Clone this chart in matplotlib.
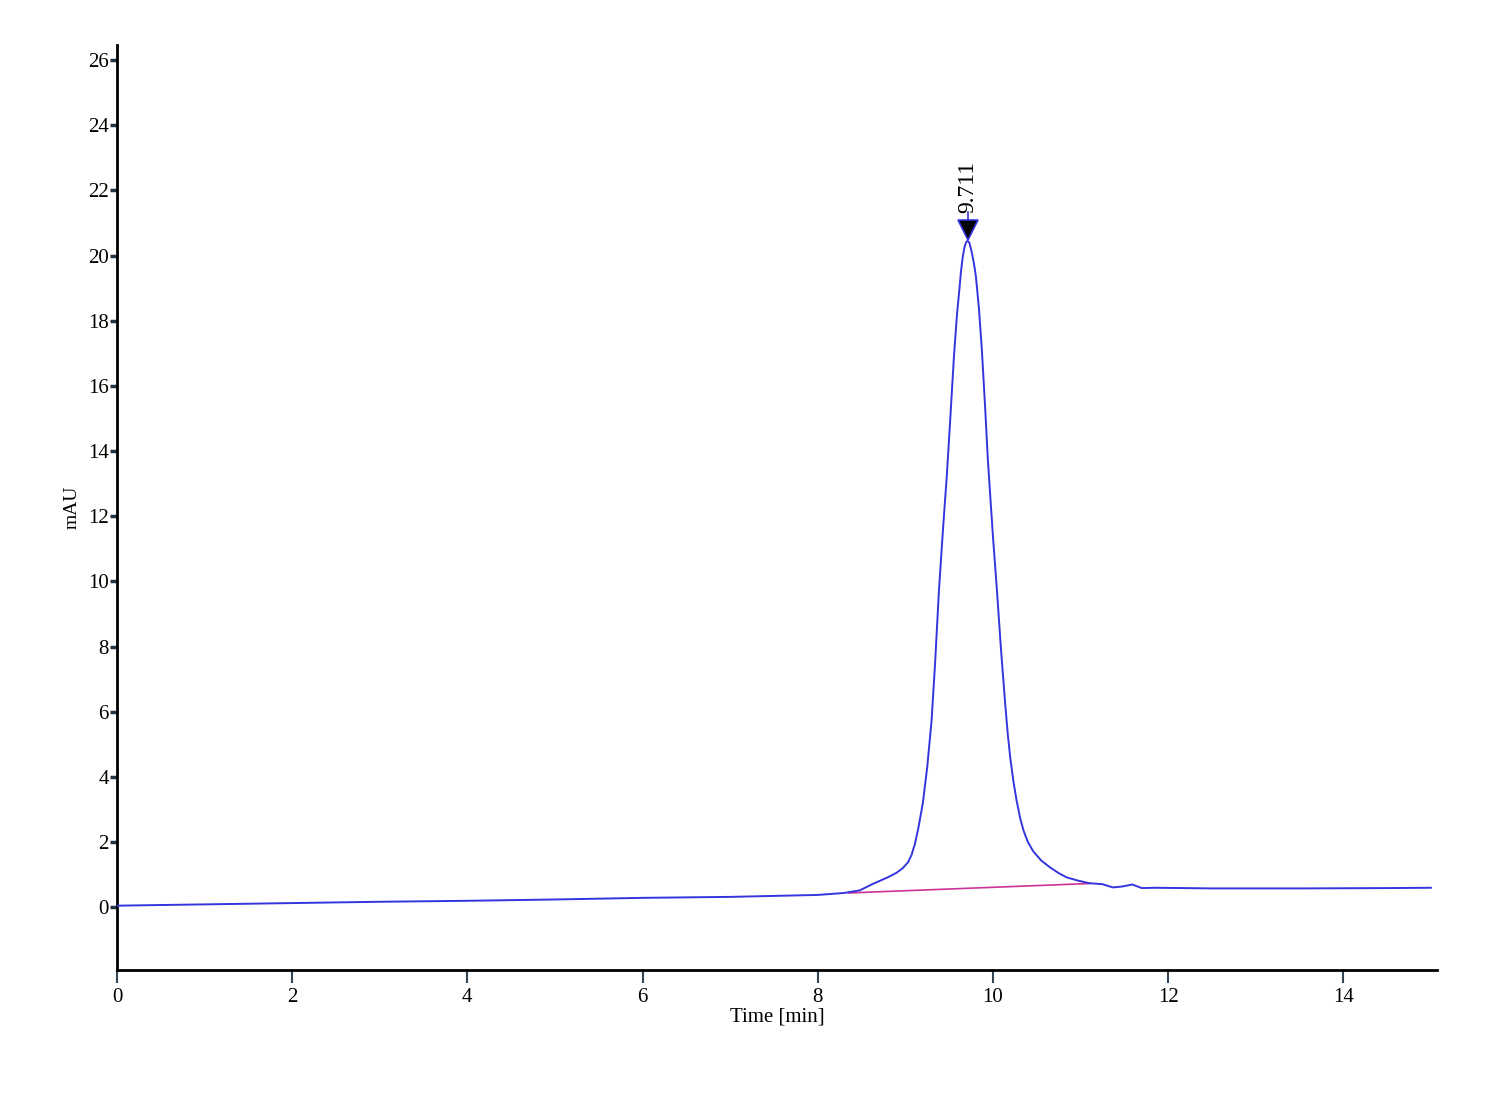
import matplotlib.pyplot as plt

# chromatogram trace
time = [0, 1, 2, 3, 4, 5, 6, 7, 7.5, 8, 8.3, 8.48, 8.63, 8.8, 8.9, 8.97, 9.03, 9.07,
        9.11, 9.15, 9.2, 9.25, 9.3, 9.34, 9.384, 9.43, 9.475, 9.52, 9.555, 9.59,
        9.615, 9.635, 9.655, 9.675, 9.695, 9.711, 9.73, 9.75, 9.77, 9.79, 9.806,
        9.84, 9.874, 9.91, 9.943, 10.0, 10.046, 10.09, 10.137, 10.17, 10.2, 10.235,
        10.27, 10.31, 10.35, 10.4, 10.46, 10.55, 10.65, 10.75, 10.84, 10.97, 11.1,
        11.25, 11.37, 11.48, 11.59, 11.7, 11.85, 12.5, 13.5, 14.5, 15]
mau = [0.05, 0.09, 0.13, 0.17, 0.2, 0.24, 0.29, 0.32, 0.35, 0.38, 0.44, 0.52, 0.72,
       0.92, 1.06, 1.2, 1.38, 1.6, 1.95, 2.45, 3.2, 4.3, 5.74, 7.5, 9.73, 11.6,
       13.3, 15.3, 16.9, 18.2, 18.9, 19.5, 19.95, 20.25, 20.42, 20.45, 20.4, 20.2,
       19.95, 19.65, 19.35, 18.4, 17.1, 15.4, 13.7, 11.4, 9.73, 8.0, 6.35, 5.3,
       4.55, 3.85, 3.28, 2.75, 2.35, 2.0, 1.72, 1.44, 1.23, 1.05, 0.92, 0.82, 0.74,
       0.71, 0.61, 0.64, 0.70, 0.59, 0.6, 0.58, 0.58, 0.59, 0.6]

# integration baseline under the peak
base_time = [8.35, 11.1]
base_mau = [0.44, 0.73]

peak_time = 9.711
peak_mau = 20.45
peak_label = "9.711"

xticks = [0, 2, 4, 6, 8, 10, 12, 14]
yticks = list(range(0, 27, 2))

plt.rcParams['font.family'] = ['Liberation Serif', 'DejaVu Serif']

fig = plt.figure(figsize=(15, 11), dpi=100)
ax = fig.add_axes([0.078, 0.118, 0.880, 0.841])

ax.plot(base_time, base_mau, color="#cc3399", lw=1.2, zorder=2)
ax.plot(time, mau, color="#3535dd", lw=1.4, zorder=3)

# peak marker
ax.plot([peak_time, peak_time], [peak_mau + 0.6, peak_mau + 0.9], color="#3535dd", lw=1.2)
ax.plot(peak_time, peak_mau + 0.35, marker="v", markersize=14, markerfacecolor="black",
        markeredgecolor="#3535dd", markeredgewidth=1.2, zorder=4)
ax.text(peak_time, peak_mau + 0.85, peak_label, rotation=90, ha="center", va="bottom",
        fontsize=17)

ax.set_xlim(0, 15.07)
ax.set_ylim(-1.93, 26.46)
ax.set_xticks(xticks)
ax.set_yticks(yticks)

for side in ["top", "right"]:
    ax.spines[side].set_visible(False)
for side in ["left", "bottom"]:
    ax.spines[side].set_linewidth(2)

ax.tick_params(axis="x", direction="out", length=9, width=1.5, color="#334455",
               labelsize=15, pad=4)
ax.tick_params(axis="y", direction="out", length=5, width=2.5, color="#223344",
               labelsize=15, pad=1)

ax.set_xlabel("Time [min]", fontsize=15, labelpad=0)
ax.set_ylabel("mAU", fontsize=14, labelpad=5)

fig.savefig("out.png", dpi=100, facecolor="white")
